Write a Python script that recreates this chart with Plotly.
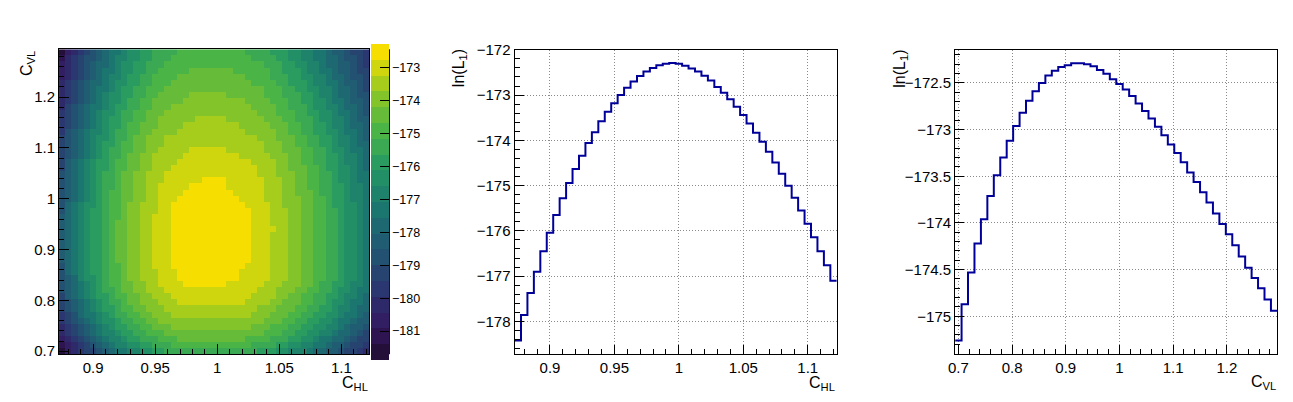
import numpy as np
import plotly.graph_objects as go

W, H = 1293, 402

# ---------------------------------------------------------------- data
# 1D scans of ln(L1), one value per bin
CHL_FIRST, CHL_STEP = 0.875, 0.005   # centre of the first C_HL bin, bin width
CVL_FIRST, CVL_STEP = 0.700, 0.012   # centre of the first C_VL bin, bin width

LNL_VS_CHL = [
    -178.42, -177.86, -177.37, -176.90, -176.45, -176.04, -175.65, -175.28, -174.94, -174.63,
    -174.34, -174.06, -173.82, -173.58, -173.37, -173.18, -173.00, -172.84, -172.70, -172.58,
    -172.48, -172.40, -172.34, -172.31, -172.29, -172.31, -172.35, -172.41, -172.48, -172.57,
    -172.68, -172.82, -172.95, -173.09, -173.26, -173.44, -173.63, -173.83, -174.03, -174.25,
    -174.49, -174.74, -175.00, -175.27, -175.55, -175.84, -176.14, -176.45, -176.76, -177.10,
]
LNL_VS_CVL = [
    -175.26, -174.87, -174.53, -174.22, -173.96, -173.71, -173.49, -173.30, -173.12, -172.96,
    -172.82, -172.69, -172.59, -172.50, -172.42, -172.37, -172.33, -172.31, -172.29, -172.29,
    -172.30, -172.32, -172.36, -172.40, -172.46, -172.51, -172.57, -172.64, -172.72, -172.80,
    -172.88, -172.97, -173.06, -173.16, -173.25, -173.35, -173.46, -173.56, -173.67, -173.78,
    -173.90, -174.01, -174.12, -174.24, -174.36, -174.48, -174.59, -174.70, -174.82, -174.94,
]

# 2D map: colour band of every cell (0..19 written 0-9, a-j), top row first
Z_MIN, Z_MAX, N_BANDS = -181.87, -172.27, 20
BANDS = [
    "0234567899abbccddddeeeeeeeeeeeddddcccbbaa998776554",
    "134566789aabbccdddeeeeeeeeeeeeeddddccbbaa998876654",
    "234567889abbccdddeeeeeeeeeeeeeeeedddccbbaa98877654",
    "234567899abbccddeeeeefffffffeeeeeeddcccbaa99877655",
    "23456789aabccddeeeefffffffffffeeeedddccbbaa9887665",
    "34567889abbccddeeefffffffffffffeeeeddcccbaa9987765",
    "34567899abccddeeeffffffffffffffffeeeddccbbaa988765",
    "3456789abbccddeefffffggggggffffffeeedddccbaa988766",
    "3456789abbcddeefffffggggggggggffffeeeddccbba998776",
    "3567899abccddeefffgggggggggggggffffeedddcbbaa98876",
    "456789abbcddeefffgggggggggggggggfffeeeddccbba99876",
    "456789abccddeeffgggggghhhhhggggggfffeedddcbbaa9877",
    "456789abccdeefffgggghhhhhhhhhgggggfffeeddccbaa9887",
    "46789aabcddeeffgggghhhhhhhhhhhgggggffeeddccbba9987",
    "56789abbcddeffggghhhhhhhhhhhhhhhgggfffeeddccbaa987",
    "56789abccdeeffggghhhhhhhhhhhhhhhhgggffeeddccbaa988",
    "56789abcddeeffgghhhhhiiiiiihhhhhhgggfffeeddcbba998",
    "56789abcddeffgghhhhhiiiiiiiiihhhhhgggffeeddccbaa98",
    "5789abccdeeffgghhhhiiiiiiiiiiiihhhhggffeeddccbaa98",
    "5789abccdeeffgghhhiiiiiiiiiiiiiihhhggfffeedccbba98",
    "6789abcddeffgghhhiiiiiiiiiiiiiiihhhgggffeeddcbba99",
    "6789abcddeffgghhhiiiiiijjjjiiiiiihhhggffeeddcbba99",
    "6789abcddeffgghhiiiiijjjjjjiiiiiihhhggffeeddccbaa9",
    "6789abcdeeffgghhiiiijjjjjjjjiiiiihhhggfffeddccbaa9",
    "6789abcdeeffgghhiiijjjjjjjjjjiiiihhhgggffeedccbaa9",
    "689abbcdeefgghhhiijjjjjjjjjjjjiiiihhgggffeedccbba9",
    "689abccdeefgghhhiijjjjjjjjjjjjjiiihhhggffeeddcbba9",
    "789abccdeefgghhiiijjjjjjjjjjjjjiiihhhggffeeddcbba9",
    "789abccdeffgghhiiijjjjjjjjjjjjjiiihhhggffeeddcbba9",
    "789abccdeffgghhiiijjjjjjjjjjjjjiiiihhggffeeddcbba9",
    "789abccdeffgghhiiijjjjjjjjjjjjjiiihhhggffeeddcbba9",
    "789abccdeffgghhiiijjjjjjjjjjjjjiiihhhggffeeddcbba9",
    "789abccdeffgghhiiijjjjjjjjjjjjjiiihhhggffeeddcbba9",
    "789abccdeffgghhiiijjjjjjjjjjjjjiiihhhggffeeddcbba9",
    "789abccdeffgghhiiijjjjjjjjjjjjjiiihhhggffeeddcbba9",
    "689abccdeefgghhiiijjjjjjjjjjjjiiiihhhggffeeddcbba9",
    "689abccdeefgghhhiiijjjjjjjjjjiiiiihhhggffeeddcbba9",
    "678abbcdeefgghhhiiijjjjjjjjjjiiiiihhhggffeeddcbba9",
    "6789abcdeeffgghhiiiijjjjjjjiiiiiihhhgggffeddccbaa9",
    "6789abcddeffgghhhiiiiiiiiiiiiiiihhhgggffeeddcbba99",
    "5789abccdeeffgghhhiiiiiiiiiiiiihhhhggffeeddccbaa98",
    "56789abcddeffggghhhiiiiiiiiiiihhhhggfffeeddcbba998",
    "56789abccdeeffggghhhhhhhhhhhhhhhgggfffeeddccbaa988",
    "456899abcddeeffggghhhhhhhhhhhhhgggfffeeddccbba9987",
    "456789abbcddeeffgggggggggggggggggfffeeddccbba99877",
    "3456789abccddeefffgggggggggggggfffeeeddccbbaa98776",
    "3456789aabccddeeeffffffffffffffffeeeddccbbaa988765",
    "23456789aabccdddeeefffffffffffeeeedddccbba99887655",
    "123456789aabbccdddeeeeeeeeeeeeeddddccbbaa998776554",
    "02345567899aabbccdddddddddddddddcccbbaaa9887765543",
]

CHL_TICKS = [0.9, 0.95, 1.0, 1.05, 1.1]
CHL_LABELS = ["0.9", "0.95", "1", "1.05", "1.1"]
CVL_TICKS = [0.7, 0.8, 0.9, 1.0, 1.1, 1.2]
CVL_LABELS = ["0.7", "0.8", "0.9", "1", "1.1", "1.2"]
LNL_CHL_TICKS = [-172, -173, -174, -175, -176, -177, -178]
LNL_CHL_LABELS = ["\u2212172", "\u2212173", "\u2212174", "\u2212175", "\u2212176", "\u2212177", "\u2212178"]
LNL_CVL_TICKS = [-172.5, -173, -173.5, -174, -174.5, -175]
LNL_CVL_LABELS = ["\u2212172.5", "\u2212173", "\u2212173.5", "\u2212174", "\u2212174.5", "\u2212175"]
Z_TICKS = [-173, -174, -175, -176, -177, -178, -179, -180, -181]
Z_LABELS = ["\u2212173", "\u2212174", "\u2212175", "\u2212176", "\u2212177",
            "\u2212178", "\u2212179", "\u2212180", "\u2212181"]

# ---------------------------------------------------------------- styling
FONT = "Liberation Sans, Arial, sans-serif"
LINE_BLUE = "#000099"

# ROOT kViridis palette (9 stops)
VIR_R = [26, 51, 43, 33, 28, 35, 74, 144, 246]
VIR_G = [9, 24, 55, 87, 118, 150, 180, 200, 222]
VIR_B = [30, 96, 112, 114, 112, 101, 72, 35, 0]


def root_colour(frac):
    stops = np.linspace(0, 1, len(VIR_R))
    r, g, b = (int(round(np.interp(frac, stops, c))) for c in (VIR_R, VIR_G, VIR_B))
    return f"rgb({r},{g},{b})"


colorscale = []
for k in range(N_BANDS):
    idx = int((k + 0.99) * 255 / N_BANDS)
    col = root_colour(idx / 254)
    colorscale += [[k / N_BANDS, col], [(k + 1) / N_BANDS, col]]

assert all(len(r) == len(LNL_VS_CHL) for r in BANDS) and len(BANDS) == len(LNL_VS_CVL)
band_step = (Z_MAX - Z_MIN) / N_BANDS
z = [[Z_MIN + (int(c, 36) + 0.5) * band_step for c in row] for row in reversed(BANDS)]


def step_xy(first, step, values):
    edges = first - step / 2 + step * np.arange(len(values) + 1)
    return edges, list(values) + [values[-1]]


def px_x(p):
    return p / W


def px_y(p):
    return 1 - p / H


def axis(dom, rng, vals, text, minor_dtick, minor_tick0, grid, anchor, ticklen=9):
    return dict(
        domain=dom, range=rng, anchor=anchor,
        tickmode="array", tickvals=vals, ticktext=text,
        ticks="inside", ticklen=ticklen, tickwidth=1, tickcolor="black",
        minor=dict(ticks="inside", ticklen=5, tickwidth=1, tickcolor="black",
                   dtick=minor_dtick, tick0=minor_tick0, showgrid=False),
        showline=True, linecolor="black", linewidth=1, mirror=True,
        showgrid=grid, gridcolor="#8a8a8a", gridwidth=1, griddash="1px,2px",
        zeroline=False, tickfont=dict(family=FONT, size=15, color="black"),
    )


Y_DOM = [px_y(357.7), px_y(42.3)]
chl_range = [CHL_FIRST - CHL_STEP / 2, CHL_FIRST + CHL_STEP * (len(LNL_VS_CHL) - 0.5)]
cvl_range = [CVL_FIRST - CVL_STEP / 2, CVL_FIRST + CVL_STEP * (len(LNL_VS_CVL) - 0.5)]

fig = go.Figure()

fig.add_trace(go.Heatmap(
    z=z, x0=CHL_FIRST, dx=CHL_STEP, y0=CVL_FIRST, dy=CVL_STEP,
    zmin=Z_MIN, zmax=Z_MAX, colorscale=colorscale, zsmooth=False,
    xaxis="x", yaxis="y",
    colorbar=dict(
        x=px_x(366), xanchor="left", xpad=0,
        y=px_y(199.7), yanchor="middle", ypad=0,
        len=316, lenmode="pixels", thickness=18, thicknessmode="pixels",
        outlinewidth=0,
        tickmode="array", tickvals=Z_TICKS, ticktext=Z_LABELS,
        ticks="inside", ticklen=9, tickwidth=1, tickcolor="black",
        tickfont=dict(family=FONT, size=12.5, color="black"),
    ),
))

x2, y2 = step_xy(CHL_FIRST, CHL_STEP, LNL_VS_CHL)
fig.add_trace(go.Scatter(x=x2, y=y2, mode="lines", xaxis="x2", yaxis="y2",
                         line=dict(shape="hv", color=LINE_BLUE, width=2), showlegend=False))
x3, y3 = step_xy(CVL_FIRST, CVL_STEP, LNL_VS_CVL)
fig.add_trace(go.Scatter(x=x3, y=y3, mode="lines", xaxis="x3", yaxis="y3",
                         line=dict(shape="hv", color=LINE_BLUE, width=2), showlegend=False))

fig.update_layout(
    width=W, height=H, autosize=False,
    margin=dict(l=0, r=0, t=0, b=0),
    paper_bgcolor="white", plot_bgcolor="white",
    font=dict(family=FONT, size=15, color="black"),
    showlegend=False,
    xaxis=axis([px_x(52.3), px_x(364.3)], chl_range, CHL_TICKS, CHL_LABELS, 0.01, 0.9, False, "y", 10),
    yaxis=axis([px_y(357.7), px_y(41.7)], cvl_range, CVL_TICKS, CVL_LABELS, 0.02, 0.7, False, "x", 10),
    xaxis2=axis([px_x(510.3), px_x(834.3)], chl_range, CHL_TICKS, CHL_LABELS, 0.01, 0.9, True, "y2"),
    yaxis2=axis(Y_DOM, [-178.725, -172.0], LNL_CHL_TICKS, LNL_CHL_LABELS, 0.2, -172, True, "x2"),
    xaxis3=axis([px_x(953.3), px_x(1277.3)], cvl_range, CVL_TICKS, CVL_LABELS, 0.02, 0.7, True, "y3"),
    yaxis3=axis(Y_DOM, [-175.407, -172.145], LNL_CVL_TICKS, LNL_CVL_LABELS, 0.1, -172.5, True, "x3"),
)

# palette axis line on the right-hand side of the colour bar
fig.add_shape(type="line", xref="paper", yref="paper",
              x0=px_x(384.5), x1=px_x(384.5), y0=px_y(357.7), y1=px_y(41.7),
              line=dict(color="black", width=1))

title_font = dict(family=FONT, size=16, color="black")
titles = [
    ("C<sub>HL</sub>", px_x(364.5), px_y(376), "right", "top", 0),
    ("C<sub>HL</sub>", px_x(834.5), px_y(376), "right", "top", 0),
    ("C<sub>VL</sub>", px_x(1277.5), px_y(375), "right", "top", 0),
    ("C<sub>VL</sub>", px_x(20), px_y(41), "center", "top", -90),
    ("ln(L<sub>1</sub>)", px_x(455), px_y(40), "center", "top", -90),
    ("ln(L<sub>1</sub>)", px_x(898), px_y(40), "center", "top", -90),
]
for text, x, y, xa, ya, ang in titles:
    fig.add_annotation(text=text, x=x, y=y, xref="paper", yref="paper",
                       xanchor=xa, yanchor=ya, textangle=ang, showarrow=False,
                       font=title_font)

# the page's default 8px body margin would shift the whole figure
fig.write_html("out.html", config={"displayModeBar": False},
               post_script="document.body.style.margin = '0';")
